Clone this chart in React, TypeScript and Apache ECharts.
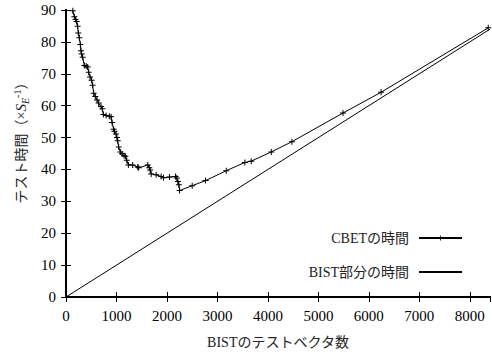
import React, { useEffect, useRef } from "react";
import * as echarts from "echarts";

const xTicks = [0, 1000, 2000, 3000, 4000, 5000, 6000, 7000, 8000];
const yTicks = [0, 10, 20, 30, 40, 50, 60, 70, 80, 90];

const cbetX = [135, 165, 190, 210, 230, 244, 264, 284, 297, 310, 330, 363, 400, 429, 449, 476, 508, 528, 548, 581, 615, 647, 694, 720, 740, 794, 859, 893, 913, 944, 960, 992, 1010, 1024, 1044, 1077, 1111, 1150, 1177, 1203, 1236, 1321, 1421, 1440, 1620, 1650, 1667, 1687, 1786, 1885, 1931, 2050, 2169, 2195, 2216, 2236, 2250, 2500, 2764, 3175, 3544, 3670, 4067, 4476, 5488, 6242, 8365];
const cbetY = [89.8, 87.9, 87.0, 86.4, 84.9, 82.8, 81.3, 79.2, 77.2, 76.2, 75.2, 72.6, 72.4, 72.1, 70.5, 69.0, 68.0, 66.4, 63.9, 62.9, 61.8, 60.8, 59.7, 59.0, 57.2, 56.9, 56.7, 56.5, 54.7, 52.6, 52.0, 51.1, 50.0, 49.0, 47.0, 45.5, 44.9, 44.3, 44.1, 42.9, 41.4, 41.4, 40.8, 40.5, 41.4, 40.5, 39.8, 38.6, 38.3, 37.8, 37.4, 37.6, 37.8, 37.3, 36.2, 35.2, 33.4, 34.9, 36.5, 39.6, 42.2, 42.6, 45.5, 48.7, 57.7, 64.2, 84.4];

const bistX = [0, 8400];
const bistY = [0, 84];

const seriesNames = ["CBETの時間", "BIST部分の時間"];
const xTitle = "BISTのテストベクタ数";

const FONT = "Liberation Serif, DejaVu Serif, Noto Sans CJK JP, serif";
const PLUS = "path://M2.5,0H3.5V2.5H6V3.5H3.5V6H2.5V3.5H0V2.5H2.5Z";

export default function App() {
  const ref = useRef<HTMLDivElement>(null);
  useEffect(() => {
    if (!ref.current) return;
    const chart = echarts.init(ref.current, undefined, { renderer: "svg" });
    const xMin = xTicks[0];
    const xInt = xTicks[1] - xTicks[0];
    const yInt = yTicks[1] - yTicks[0];
    const axisCommon = {
      axisLine: { show: true, lineStyle: { color: "#000", width: 2 } },
      axisTick: { show: true, inside: true, length: 5, lineStyle: { color: "#000", width: 1 } },
      splitLine: { show: false },
    };
    chart.setOption({
      animation: false,
      backgroundColor: "#fff",
      grid: { left: 66, right: 2, top: 10, bottom: 51, containLabel: false },
      legend: {
        orient: "vertical",
        right: 29,
        top: 231,
        padding: 0,
        align: "right",
        itemWidth: 43,
        itemHeight: 6,
        itemGap: 20,
        textStyle: { fontFamily: FONT, fontSize: 14, lineHeight: 14, color: "#222", padding: [0, 5, 0, 0] },
        data: [
          { name: seriesNames[0] },
          { name: seriesNames[1], itemStyle: { opacity: 0 } },
        ],
      },
      xAxis: [
        {
          type: "value",
          min: xMin,
          max: 8400,
          interval: xInt,
          ...axisCommon,
          axisLabel: {
            show: true,
            showMaxLabel: false,
            color: "#000",
            fontFamily: FONT,
            fontSize: 15,
            margin: 11,
            formatter: (v: number) => String(v),
          },
          name: xTitle,
          nameLocation: "middle",
          nameGap: 38,
          nameTextStyle: { fontFamily: FONT, fontSize: 14, color: "#222" },
        },
        {
          type: "value",
          position: "top",
          min: xMin,
          max: 8400,
          interval: xInt,
          ...axisCommon,
          axisLabel: { show: false },
        },
      ],
      yAxis: [
        {
          type: "value",
          min: yTicks[0],
          max: yTicks[yTicks.length - 1],
          interval: yInt,
          ...axisCommon,
          axisLabel: { color: "#000", fontFamily: FONT, fontSize: 15, margin: 10, formatter: (v: number) => String(v) },
          name: "{a|テスト時間（×}{s|S}{sub|E}{sup|-1}{a|）}",
          nameLocation: "middle",
          nameRotate: 90,
          nameGap: 36,
          nameTextStyle: {
            fontFamily: FONT,
            fontSize: 14,
            color: "#222",
            padding: [0, 0, 0, 28],
            rich: {
              a: { fontFamily: FONT, fontSize: 14, color: "#222" },
              s: { fontFamily: FONT, fontSize: 15, fontStyle: "italic", color: "#222" },
              sub: { fontFamily: FONT, fontSize: 10, fontStyle: "italic", color: "#222", padding: [8, 0, 0, 0], verticalAlign: "bottom" },
              sup: { fontFamily: FONT, fontSize: 10, color: "#222", padding: [0, 0, 8, 0], verticalAlign: "top" },
            },
          },
        },
        {
          type: "value",
          position: "right",
          min: yTicks[0],
          max: yTicks[yTicks.length - 1],
          interval: yInt,
          ...axisCommon,
          axisLabel: { show: false },
        },
      ],
      series: [
        {
          name: seriesNames[0],
          type: "line",
          data: cbetX.map((x, i) => [x, cbetY[i]]),
          symbol: PLUS,
          symbolSize: 6,
          showSymbol: true,
          lineStyle: { color: "#000", width: 1 },
          itemStyle: { color: "#000" },
          clip: true,
        },
        {
          name: seriesNames[1],
          type: "line",
          data: bistX.map((x, i) => [x, bistY[i]]),
          symbol: "none",
          lineStyle: { color: "#000", width: 1 },
          itemStyle: { color: "#000" },
          clip: true,
        },
      ],
    });
    return () => chart.dispose();
  }, []);
  return <div ref={ref} style={{ width: 492, height: 354, position: "absolute", left: 0, top: 0 }} />;
}
